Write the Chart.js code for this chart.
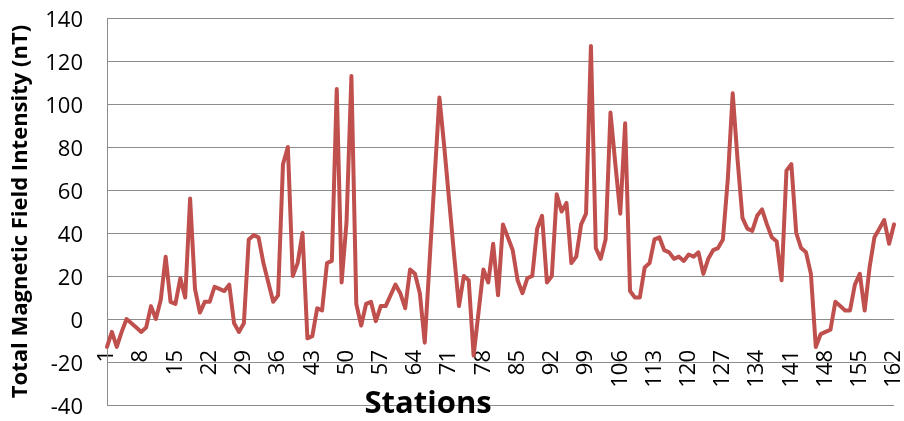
<!DOCTYPE html>
<html>
<head>
<meta charset="utf-8">
<script src="https://cdn.jsdelivr.net/npm/chart.js@4.4.1/dist/chart.umd.min.js"></script>
<style>
  html, body { margin: 0; padding: 0; background: #ffffff; }
  #wrap { width: 904px; height: 421px; }
</style>
</head>
<body>
<div id="wrap"><canvas id="c" width="904" height="421"></canvas></div>
<script>
// ---- data ----
const stations = Array.from({ length: 162 }, (_, i) => String(i + 1));
const shownTickLabels = ['1','8','15','22','29','36','43','50','57','64','71','78','85','92','99','106','113','120','127','134','141','148','155','162'];
const yTickValues = [-40, -20, 0, 20, 40, 60, 80, 100, 120, 140];
const intensity = [
  -13, -6, -13, -6, 0, -2, -4, -6, -4, 6, 0, 9, 29, 8, 7, 19, 10, 56, 14, 3,
  8, 8, 15, 14, 13, 16, -2, -6, -2, 37, 39, 38,
  26, 17, 8, 11, 72, 80, 20, 26, 40, -9, -8, 5, 4, 26, 27, 107, 17, 45,
  113, 7, -3, 7, 8, -1, 6, 6, 11, 16, 12, 5, 23, 21, 12, -11,
  27, 65, 103, 80, 55, 30, 6, 20, 18, -17, 3, 23, 17, 35, 11, 44, 38, 32,
  18, 12, 19, 20, 42, 48, 17, 20, 58, 50, 54, 26, 29, 44, 49, 127,
  33, 28, 37, 96, 72, 49, 91, 13, 10, 10, 24, 26, 37, 38, 32, 31, 28, 29,
  27, 30, 29, 31, 21, 28,
  32, 33, 37, 65, 105, 74, 47, 42, 41, 48, 51, 44, 38, 36, 18, 69, 72, 40,
  33, 31, 21, -13, -7, -6, -5, 8, 6, 4, 4, 16, 21, 4, 24, 38, 42, 46, 35, 44
];
const xAxisTitle = 'Stations';
const yAxisTitle = 'Total Magnetic Field Intensity (nT)';

const fontFamily = '"Open Sans", Lato, sans-serif';
Chart.defaults.font.family = fontFamily;

const gridColor = '#8c8c8c';

const bottomTitlePlugin = {
  id: 'bottomTitle',
  afterDraw(chart) {
    const { ctx, chartArea } = chart;
    ctx.save();
    ctx.font = 'bold 31px ' + fontFamily;
    ctx.fillStyle = '#000000';
    ctx.textAlign = 'center';
    ctx.textBaseline = 'alphabetic';
    ctx.fillText(xAxisTitle, chartArea.left + chartArea.width * 0.408, chartArea.bottom + 8);
    ctx.restore();
  }
};

new Chart(document.getElementById('c'), {
  type: 'line',
  data: {
    labels: stations,
    datasets: [{
      data: intensity,
      borderColor: '#C0504D',
      backgroundColor: '#C0504D',
      borderWidth: 4,
      pointRadius: 0,
      tension: 0,
      borderJoinStyle: 'round',
      borderCapStyle: 'round',
      fill: false
    }]
  },
  options: {
    responsive: false,
    animation: false,
    devicePixelRatio: 1,
    layout: { padding: { top: 18, right: 10, bottom: 16, left: 0 } },
    plugins: {
      legend: { display: false },
      tooltip: { enabled: false },
      title: { display: false }
    },
    scales: {
      x: {
        type: 'category',
        position: { y: 0 },
        offset: false,
        grid: { display: false, drawTicks: false, tickLength: 0 },
        border: { display: false },
        ticks: {
          autoSkip: false,
          minRotation: 90,
          maxRotation: 90,
          padding: 31,
          color: '#000000',
          font: { size: 22 },
          callback: function (value, index) {
            const lab = stations[index];
            return shownTickLabels.includes(lab) ? lab : '';
          }
        },
        afterFit: function (scale) {
          scale.paddingLeft = 0;
          scale.paddingRight = 0;
        }
      },
      y: {
        min: yTickValues[0],
        max: yTickValues[yTickValues.length - 1],
        grid: { color: gridColor, lineWidth: 1, drawTicks: false, tickLength: 0 },
        border: { display: true, color: gridColor, width: 1 },
        ticks: {
          stepSize: 20,
          padding: 24,
          labelOffset: 3,
          color: '#000000',
          font: { size: 22 }
        },
        title: {
          display: true,
          text: yAxisTitle,
          color: '#000000',
          font: { size: 22, weight: 'bold' },
          padding: { top: 8, bottom: 0 }
        },
        afterFit: function (scale) {
          scale.width = 107;
          scale.paddingTop = 0;
          scale.paddingBottom = 0;
        }
      }
    }
  },
  plugins: [bottomTitlePlugin]
});
</script>
</body>
</html>
